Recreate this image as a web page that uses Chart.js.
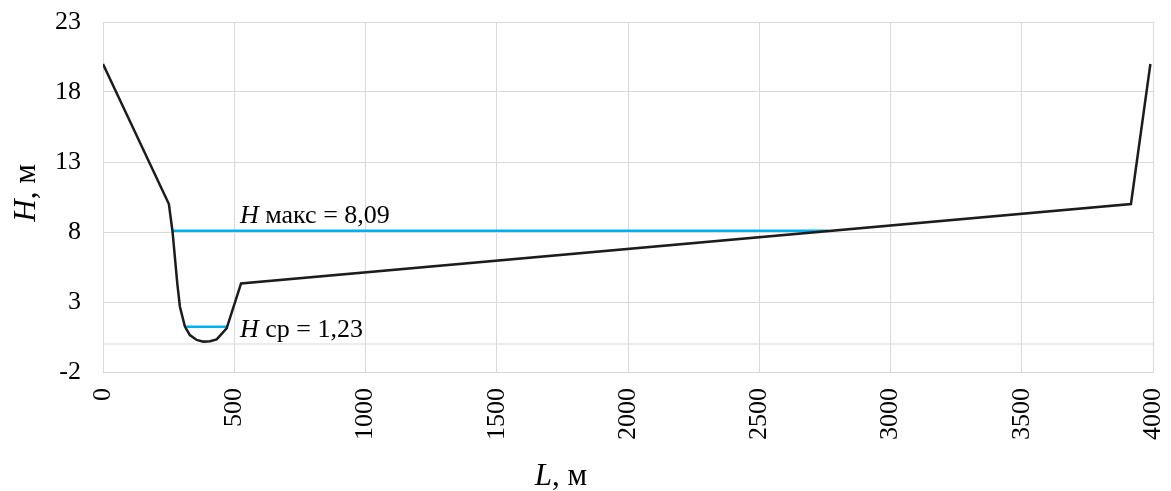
<!DOCTYPE html>
<html>
<head>
<meta charset="utf-8">
<script src="https://cdn.jsdelivr.net/npm/chart.js@4.4.1/dist/chart.umd.min.js"></script>
<style>
  html, body { margin: 0; padding: 0; background: #ffffff; }
  canvas { display: block; }
</style>
</head>
<body>
<canvas id="profile" width="1171" height="491"></canvas>
<script>
// Cross-section profile: distance along the section (m) and bed elevation (m)
const distance = [0, 251, 265, 283, 293, 312, 331, 357, 382, 408, 433, 471, 526, 3916, 3990];
const elevation = [20, 10, 8.0, 4.33, 2.66, 1.24, 0.64, 0.29, 0.17, 0.2, 0.33, 1.12, 4.33, 10, 20];

// Water levels: name, value, and where each level meets the banks (m)
const levelNames = ['макс', 'ср'];
const levelValues = [8.09, 1.23];
const levelFrom = [267, 314];
const levelTo = [2762, 472];

// Axis ticks
const xTicks = [0, 500, 1000, 1500, 2000, 2500, 3000, 3500, 4000];
const yTicks = [-2, 3, 8, 13, 18, 23];

const SERIF = '"Liberation Serif", "Times New Roman", serif';
const GRID = '#d9d9d9';
const LINE = '#1c1c1c';
const WATER = '#00b0f0';

const fmt = v => v.toFixed(2).replace('.', ',');

function drawRuns(ctx, runs, x, y, size, align) {
  const fonts = runs.map(r => (r.italic ? 'italic ' : '') + size + 'px ' + SERIF);
  let width = 0;
  runs.forEach((r, i) => { ctx.font = fonts[i]; width += ctx.measureText(r.text).width; });
  let cx = align === 'center' ? x - width / 2 : x;
  runs.forEach((r, i) => {
    ctx.font = fonts[i];
    ctx.fillText(r.text, cx, y);
    cx += ctx.measureText(r.text).width;
  });
}

const profilePoints = distance.map((d, i) => ({ x: d, y: elevation[i] }));

const levelSets = levelValues.map((v, i) => ({
  label: 'H ' + levelNames[i],
  data: [{ x: levelFrom[i], y: v }, { x: levelTo[i], y: v }],
  borderColor: WATER,
  borderWidth: 2.5,
  pointRadius: 0,
  fill: false
}));

const axisLine = {
  label: 'axis',
  data: [{ x: xTicks[0], y: 0 }, { x: xTicks[xTicks.length - 1], y: 0 }],
  borderColor: GRID,
  borderWidth: 1,
  pointRadius: 0,
  fill: false
};

// Axis titles and water-level captions with mixed italic/upright text
const textPlugin = {
  id: 'profileText',
  afterDatasetsDraw(chart) {
    const ctx = chart.ctx;
    const xs = chart.scales.x, ys = chart.scales.y;
    ctx.save();
    ctx.fillStyle = '#000000';
    ctx.textBaseline = 'alphabetic';

    // Level captions
    const captionX = xs.getPixelForValue(522);
    const offsets = [-8, 10];
    levelValues.forEach((v, i) => {
      const y = ys.getPixelForValue(v) + offsets[i];
      drawRuns(ctx, [
        { text: 'H', italic: true },
        { text: ' ' + levelNames[i] + ' = ' + fmt(v) }
      ], captionX, y, 26, 'left');
    });

    // X axis title
    drawRuns(ctx, [{ text: 'L', italic: true }, { text: ', м' }], 561, 485, 31, 'center');

    // Y axis title
    ctx.translate(35, (chart.chartArea.top + chart.chartArea.bottom) / 2 - 4);
    ctx.rotate(-Math.PI / 2);
    drawRuns(ctx, [{ text: 'H', italic: true }, { text: ', м' }], 0, 0, 31, 'center');
    ctx.restore();
  }
};

new Chart(document.getElementById('profile'), {
  type: 'line',
  data: {
    datasets: [
      {
        label: 'profile',
        data: profilePoints,
        borderColor: LINE,
        borderWidth: 2.5,
        pointRadius: 0,
        fill: false,
        tension: 0
      },
      ...levelSets,
      axisLine
    ]
  },
  options: {
    responsive: false,
    animation: false,
    devicePixelRatio: 1,
    layout: { padding: { top: 22, right: 18, left: 0, bottom: 0 } },
    plugins: { legend: { display: false }, tooltip: { enabled: false } },
    scales: {
      x: {
        type: 'linear',
        min: 0,
        max: 4000,
        afterBuildTicks: s => { s.ticks = xTicks.map(v => ({ value: v })); },
        afterFit: s => { s.height = 119; s.paddingLeft = 0; s.paddingRight = 0; },
        grid: { color: GRID, lineWidth: 1, drawTicks: false },
        border: { color: GRID, width: 1 },
        ticks: {
          minRotation: 90,
          maxRotation: 90,
          padding: 16,
          color: '#000000',
          font: { family: SERIF, size: 26 },
          callback: v => String(v)
        }
      },
      y: {
        type: 'linear',
        min: -2,
        max: 23,
        afterBuildTicks: s => { s.ticks = yTicks.map(v => ({ value: v })); },
        afterFit: s => { s.width = 103; s.paddingTop = 0; s.paddingBottom = 0; },
        grid: { color: GRID, lineWidth: 1, drawTicks: false },
        border: { color: GRID, width: 1 },
        ticks: {
          padding: 22,
          color: '#000000',
          font: { family: SERIF, size: 26 },
          callback: v => String(v)
        }
      }
    }
  },
  plugins: [textPlugin]
});
</script>
</body>
</html>
